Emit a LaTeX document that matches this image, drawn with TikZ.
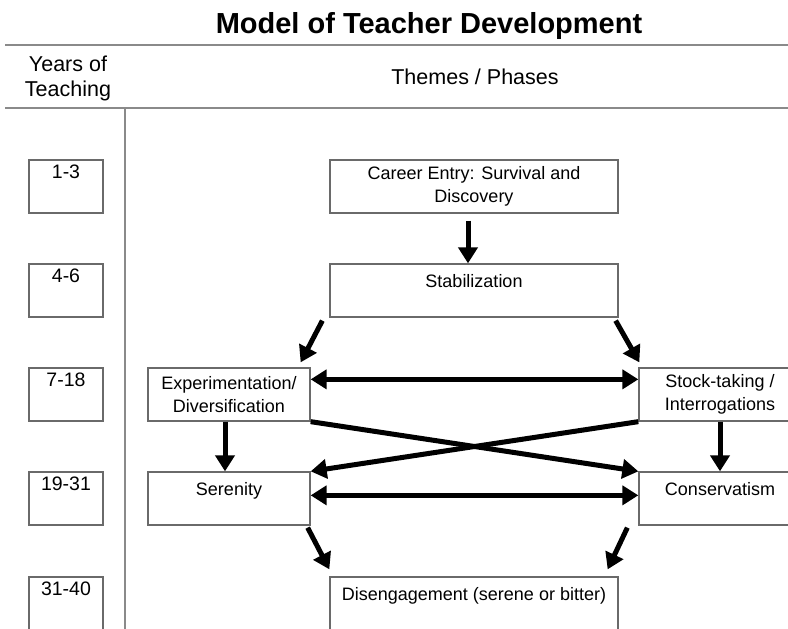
\documentclass[tikz,border=0pt]{standalone}
\usepackage{fontspec}
\setmainfont{Liberation Sans}
\usetikzlibrary{arrows.meta}
\usetikzlibrary{positioning}

\definecolor{boxgray}{HTML}{6A6A6A}
\definecolor{rulegray}{HTML}{8A8A8A}

\tikzset{
  rule/.style = {draw = rulegray, line width = 1.8pt},
  head/.style = {inner sep = 0pt, font = \fontsize{21.5}{25}\selectfont},
  phase/.style = {draw = boxgray, line width = 1.3pt, inner sep = 0pt,
    minimum height = 53pt, align = center, font = \fontsize{18}{22.5}\selectfont},
  toptext/.style = {text height = 23.5pt, text depth = 29.5pt},
  yearbox/.style = {draw = boxgray, line width = 1.3pt, inner sep = 0pt,
    minimum width = 74pt, text height = 18pt, text depth = 35pt,
    font = \fontsize{19.5}{23}\selectfont},
  flow/.style = {line width = 5pt, -{Triangle[length = 16pt, width = 19pt]}},
  twoway/.style = {line width = 5pt,
    {Triangle[length = 16pt, width = 19pt]}-{Triangle[length = 16pt, width = 19pt]}}
}

\begin{document}
\begin{tikzpicture}[x = 1pt, y = -1pt]
  \useasboundingbox (0, 0) rectangle (788, 629);
  \clip (0, 0) rectangle (788, 629);

  \node[anchor = base, inner sep = 0pt, font = \bfseries\fontsize{29}{34}\selectfont] (title) at (429, 33) {Model of Teacher Development};

  \draw[rule] (5, 45) -- (788, 45);
  \draw[rule] (5, 108) -- (788, 108);
  \draw[rule] (125, 108) -- (125, 629);

  \node[head, align = center, anchor = north] (yearshead) at (68, 56) {Years of\\Teaching};
  \node[head, anchor = base] (themeshead) at (475, 84) {Themes / Phases};

  \node[yearbox] (yr1) at (66, 186.5) {1-3};
  \node[yearbox] (yr2) at (66, 290.5) {4-6};
  \node[yearbox] (yr3) at (66, 394.5) {7-18};
  \node[yearbox] (yr4) at (66, 498.5) {19-31};
  \node[yearbox] (yr5) at (66, 603.5) {31-40};

  \node[phase, minimum width = 288pt] (entry) at (474, 186.5) {Career Entry: Survival and\\Discovery};
  \node[phase, toptext, minimum width = 288pt] (stab) at (474, 290.5) {Stabilization};
  \node[phase, minimum width = 162pt] (exper) at (229, 394.5) {Experimentation/\\Diversification};
  \node[phase, minimum width = 162pt] (stock) at (720, 394.5) {Stock-taking /\\Interrogations};
  \node[phase, toptext, minimum width = 162pt] (seren) at (229, 498.5) {Serenity};
  \node[phase, toptext, minimum width = 162pt] (conserv) at (720, 498.5) {Conservatism};
  \node[phase, toptext, minimum width = 288pt] (diseng) at (474, 603.5) {Disengagement (serene or bitter)};

  \draw[flow] ([xshift = -6pt, yshift = -7pt]entry.south) -- ([xshift = -6pt]stab.north);
  \draw[flow] ([xshift = -7pt, yshift = -3pt]stab.south west) -- ([xshift = -10pt, yshift = 5pt]exper.north east);
  \draw[flow] ([xshift = -3pt, yshift = -3pt]stab.south east) -- ([xshift = 1pt, yshift = 5pt]stock.north west);
  \draw[twoway] ([yshift = -12pt]exper.north east) -- ([yshift = -12pt]stock.north west);
  \draw[flow] ([xshift = -4pt]exper.south) -- ([xshift = -4pt]seren.north);
  \draw[flow] (stock.south) -- (conserv.north);
  \draw[flow] (exper.south east) -- (conserv.north west);
  \draw[flow] (stock.south west) -- (seren.north east);
  \draw[twoway] ([yshift = -24pt]seren.north east) -- ([yshift = -24pt]conserv.north west);
  \draw[flow] ([xshift = -3pt, yshift = -2pt]seren.south east) -- ([yshift = 7pt]diseng.north west);
  \draw[flow] ([xshift = -11pt, yshift = -2pt]conserv.south west) -- ([xshift = -11pt, yshift = 7pt]diseng.north east);
\end{tikzpicture}
\end{document}
